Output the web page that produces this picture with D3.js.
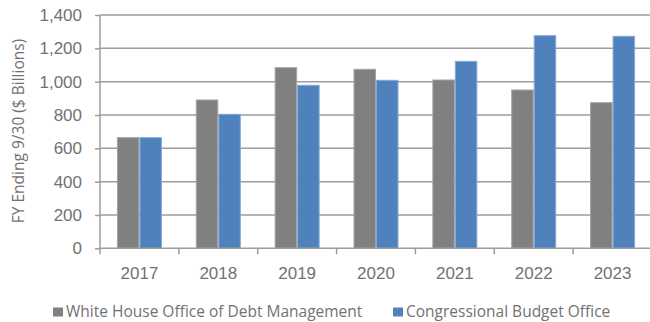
<!DOCTYPE html>
<html>
<head>
<meta charset="utf-8">
<script src="https://cdn.jsdelivr.net/npm/d3@7"></script>
<style>
  html, body { margin: 0; padding: 0; background: #fff; }
  svg { display: block; font-family: "Open Sans", sans-serif; }
</style>
</head>
<body>
<div id="chart"></div>
<script>
const years = ["2017", "2018", "2019", "2020", "2021", "2022", "2023"];
const seriesNames = ["White House Office of Debt Management", "Congressional Budget Office"];
const whiteHouse = [664, 890, 1084, 1074, 1010, 950, 874];
const cbo = [664, 804, 978, 1008, 1122, 1276, 1272];
const yTicks = [0, 200, 400, 600, 800, 1000, 1200, 1400];

const width = 650;
const height = 322;
const plotLeft = 100;
const plotRight = 652;
const plotTop = 15;
const plotBottom = 248.3;

const colors = ["#808080", "#4f81bd"];
const edgeColors = ["#a3a3a3", "#86a8d6"];
const textColor = "#727272";
const gridColor = "#9c9c9c";

const svg = d3.select("#chart")
  .append("svg")
  .attr("width", width)
  .attr("height", height);

const y = d3.scaleLinear().domain([0, 1400]).range([plotBottom, plotTop]);
const x0 = d3.scaleBand().domain(years).range([plotLeft, plotRight]).padding(0);
const groupWidth = 45;
const x1 = d3.scaleBand().domain([0, 1]).range([0, groupWidth]);

// gridlines
svg.append("g")
  .selectAll("line")
  .data(yTicks.filter(d => d > 0))
  .join("line")
  .attr("x1", plotLeft)
  .attr("x2", width)
  .attr("y1", d => y(d))
  .attr("y2", d => y(d))
  .attr("stroke", gridColor)
  .attr("stroke-width", 1.5);

// bars
const rows = years.map((yr, i) => ({ year: yr, values: [whiteHouse[i], cbo[i]] }));
const groups = svg.append("g")
  .selectAll("g")
  .data(rows)
  .join("g")
  .attr("transform", d => `translate(${x0(d.year) + (x0.bandwidth() - groupWidth) / 2},0)`);

groups.selectAll("rect")
  .data(d => d.values.map((v, k) => ({ k, v })))
  .join("rect")
  .attr("x", d => x1(d.k) + 0.5)
  .attr("width", x1.bandwidth() - 1)
  .attr("y", d => y(d.v))
  .attr("height", d => y(0) - y(d.v))
  .attr("fill", d => colors[d.k])
  .attr("stroke", d => edgeColors[d.k])
  .attr("stroke-width", 1);

// y axis
const yAxis = svg.append("g")
  .attr("transform", `translate(${plotLeft},0)`)
  .call(d3.axisLeft(y).tickValues(yTicks).tickSize(5).tickPadding(13).tickFormat(d3.format(",")));
yAxis.select(".domain").attr("stroke", gridColor).attr("stroke-width", 1.5).attr("d", `M0,${plotTop}V${plotBottom}`);
yAxis.selectAll(".tick line").attr("stroke", gridColor).attr("stroke-width", 1.5);
yAxis.selectAll(".tick text").attr("fill", textColor).attr("font-size", 17).attr("x", -18);

// x axis
const xAxis = svg.append("g")
  .attr("transform", `translate(0,${plotBottom})`)
  .call(d3.axisBottom(x0).tickSize(0).tickPadding(19));
xAxis.select(".domain").attr("stroke", gridColor).attr("stroke-width", 1.5).attr("d", `M${plotLeft},0H${width}`);
xAxis.selectAll(".tick text").attr("fill", textColor).attr("font-size", 17);

// category separators
svg.append("g")
  .selectAll("line")
  .data(years)
  .join("line")
  .attr("x1", d => x0(d))
  .attr("x2", d => x0(d))
  .attr("y1", plotBottom)
  .attr("y2", plotBottom + 6)
  .attr("stroke", gridColor)
  .attr("stroke-width", 1.5);

// y axis title
svg.append("text")
  .attr("transform", "translate(24,131) rotate(-90)")
  .attr("text-anchor", "middle")
  .attr("fill", textColor)
  .attr("font-size", 15.5)
  .text("FY Ending 9/30 ($ Billions)");

// legend
const legendX = [53, 393];
const legend = svg.append("g")
  .selectAll("g")
  .data(seriesNames)
  .join("g")
  .attr("transform", (d, i) => `translate(${legendX[i]},307.5)`);

legend.append("rect")
  .attr("width", 10)
  .attr("height", 9)
  .attr("fill", (d, i) => colors[i]);

legend.append("text")
  .attr("x", 13)
  .attr("y", 9.5)
  .attr("fill", textColor)
  .attr("font-size", 15.5)
  .text(d => d);
</script>
</body>
</html>
